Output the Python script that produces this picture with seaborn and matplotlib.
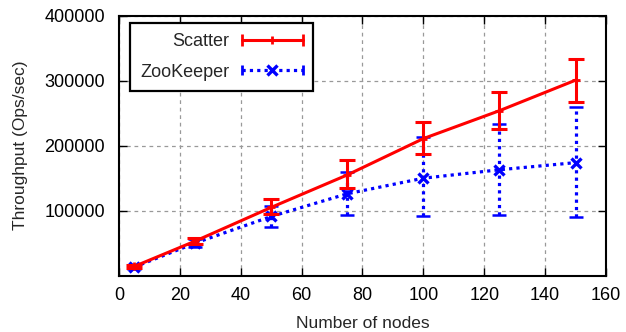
import numpy as np
import pandas as pd
import matplotlib
matplotlib.use("Agg")
import matplotlib.pyplot as plt
import seaborn as sns
from matplotlib.lines import Line2D
from matplotlib.legend_handler import HandlerLine2D, HandlerTuple

# number of nodes
nodes = [5, 25, 50, 75, 100, 125, 150]

# Scatter throughput (ops/sec) with lower / upper bounds
scatter_mean = [14000, 53000, 105000, 155000, 211000, 254000, 301000]
scatter_low = [12000, 49000, 95000, 135000, 187000, 226000, 268000]
scatter_high = [16000, 58000, 118000, 178000, 236000, 283000, 333000]

# ZooKeeper throughput (ops/sec) with lower / upper bounds
zk_mean = [13000, 50000, 91000, 126000, 150000, 163000, 174000]
zk_low = [10000, 44000, 75000, 94000, 92000, 94000, 90000]
zk_high = [17000, 56000, 107000, 159000, 213000, 234000, 259000]

xticks = [0, 20, 40, 60, 80, 100, 120, 140, 160]
yticks = [100000, 200000, 300000, 400000]

sns.set_style("ticks")
plt.rcParams['font.family'] = ['Liberation Sans', 'DejaVu Sans']
plt.rcParams['font.size'] = 13

df = pd.DataFrame({
    "nodes": nodes * 2,
    "throughput": scatter_mean + zk_mean,
    "system": ["Scatter"] * len(nodes) + ["ZooKeeper"] * len(nodes),
})

fig = plt.figure(figsize=(6.26, 3.32), dpi=100)
ax = fig.add_axes([0.19, 0.17, 0.778, 0.782])

red = "#ff0000"
blue = "#0000ff"
zk_dots = (0, (1, 1.3))

# error bars
s_err = [np.array(scatter_mean) - np.array(scatter_low),
         np.array(scatter_high) - np.array(scatter_mean)]
z_err = [np.array(zk_mean) - np.array(zk_low),
         np.array(zk_high) - np.array(zk_mean)]

eb_z = ax.errorbar(nodes, zk_mean, yerr=z_err, fmt='none', ecolor=blue,
                   elinewidth=2.3, capsize=5, capthick=1.8, zorder=2)
eb_z[2][0].set_linestyle(zk_dots)
eb_s = ax.errorbar(nodes, scatter_mean, yerr=s_err, fmt='none', ecolor=red,
                   elinewidth=2.2, capsize=6, capthick=2.2, zorder=3)

# lines
sns.lineplot(data=df[df.system == "ZooKeeper"], x="nodes", y="throughput",
             color=blue, lw=2.3, linestyle=zk_dots, marker='x', markersize=6.5,
             markeredgewidth=2.4, markeredgecolor=blue, ax=ax, legend=False, zorder=2)
sns.lineplot(data=df[df.system == "Scatter"], x="nodes", y="throughput",
             color=red, lw=2.2, marker='+', markersize=5.5, markeredgewidth=2,
             markeredgecolor=red, ax=ax, legend=False, zorder=3)

ax.set_xlim(0, 160)
ax.set_ylim(0, 400000)
ax.set_xticks(xticks)
ax.set_yticks(yticks)
ax.set_xticklabels([str(t) for t in xticks])
ax.set_yticklabels([str(t) for t in yticks])
ax.tick_params(direction='in', length=6, width=1, top=True, right=True,
               colors='black', labelsize=13)
ax.tick_params(axis='y', pad=10)
ax.tick_params(axis='x', pad=8)
for sp in ax.spines.values():
    sp.set_visible(True)
    sp.set_linewidth(1.5)
    sp.set_color('black')

ax.grid(True, color='#999999', linestyle=(0, (3, 3)), linewidth=0.9)
ax.set_xlabel("Number of nodes", fontsize=12.5, labelpad=9)
ax.set_ylabel("Throughput (Ops/sec)", fontsize=12.5, labelpad=12)

# legend in gnuplot style: label, then horizontal errorbar sample
s_line = Line2D([], [], color=red, lw=2.2, marker='+', markersize=5.5, markeredgewidth=2)
s_caps = Line2D([], [], color=red, lw=0, marker='|', markersize=9, markeredgewidth=2)
z_line = Line2D([], [], color=blue, lw=2.3, linestyle=zk_dots, marker='x',
                markersize=6.5, markeredgewidth=2.4)
z_caps = Line2D([], [], color=blue, lw=0, marker='|', markersize=7, markeredgewidth=2)

caps_handler = HandlerLine2D(numpoints=2, marker_pad=0)
leg = ax.legend([(s_line, s_caps), (z_line, z_caps)], ["Scatter", "ZooKeeper"],
                handler_map={tuple: HandlerTuple(ndivide=1),
                             s_caps: caps_handler, z_caps: caps_handler},
                loc='upper left', bbox_to_anchor=(0.0226, 0.972), borderaxespad=0,
                markerfirst=False, fancybox=False, framealpha=1, edgecolor='black',
                fontsize=13, handlelength=3.4, handletextpad=0.7,
                labelspacing=0.75, borderpad=0.55, numpoints=1)
leg.get_frame().set_linewidth(1.6)

fig.savefig("out.png", dpi=100)
